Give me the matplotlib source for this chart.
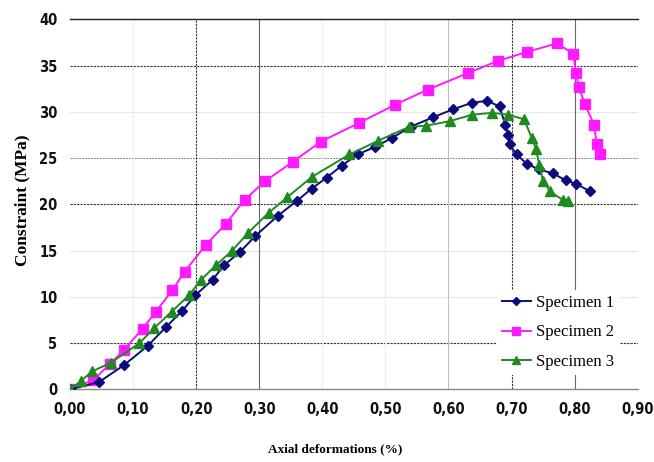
import matplotlib
matplotlib.use("Agg")
import matplotlib.pyplot as plt
from matplotlib import font_manager

# specimen curves (axial deformation %, constraint MPa)
spec1_x = [0.0, 0.046, 0.085, 0.123, 0.153, 0.178, 0.199, 0.226, 0.244, 0.270, 0.294,
           0.330, 0.360, 0.383, 0.407, 0.431, 0.456, 0.483, 0.511, 0.540, 0.575, 0.608,
           0.638, 0.661, 0.681, 0.690, 0.695, 0.697, 0.708, 0.724, 0.743, 0.766, 0.786,
           0.803, 0.825]
spec1_y = [0.0, 0.8, 2.6, 4.7, 6.8, 8.5, 10.2, 11.85, 13.4, 14.9, 16.6,
           18.8, 20.4, 21.7, 22.9, 24.2, 25.4, 26.2, 27.2, 28.4, 29.4, 30.3,
           31.0, 31.2, 30.6, 28.6, 27.5, 26.5, 25.4, 24.4, 23.8, 23.35, 22.6,
           22.2, 21.4]

spec2_x = [0.0, 0.036, 0.063, 0.085, 0.115, 0.136, 0.162, 0.182, 0.215, 0.247, 0.277,
           0.309, 0.353, 0.398, 0.458, 0.516, 0.567, 0.631, 0.678, 0.725, 0.772, 0.798,
           0.802, 0.807, 0.816, 0.831, 0.835, 0.841]
spec2_y = [0.0, 1.0, 2.7, 4.25, 6.55, 8.4, 10.7, 12.75, 15.6, 17.9, 20.5,
           22.5, 24.6, 26.8, 28.8, 30.8, 32.4, 34.2, 35.5, 36.5, 37.4, 36.3,
           34.2, 32.65, 30.9, 28.6, 26.55, 25.4]

spec3_x = [0.0, 0.018, 0.035, 0.065, 0.110, 0.133, 0.161, 0.189, 0.207, 0.231, 0.257,
           0.282, 0.315, 0.344, 0.384, 0.443, 0.489, 0.538, 0.564, 0.602, 0.638, 0.669,
           0.695, 0.720, 0.732, 0.739, 0.744, 0.750, 0.761, 0.781, 0.790]
spec3_y = [0.0, 0.95, 1.95, 2.9, 5.0, 6.6, 8.4, 10.2, 11.8, 13.4, 15.0,
           16.9, 19.1, 20.75, 23.0, 25.4, 26.9, 28.4, 28.5, 29.0, 29.7, 29.9,
           29.7, 29.2, 27.2, 26.0, 24.25, 22.55, 21.4, 20.5, 20.4]

labels = ["Specimen 1", "Specimen 2", "Specimen 3"]
x_ticks = [0.0, 0.1, 0.2, 0.3, 0.4, 0.5, 0.6, 0.7, 0.8, 0.9]
y_ticks = [0, 5, 10, 15, 20, 25, 30, 35, 40]

# the original uses a narrow bold sans for the ticks; take a condensed face if there is one
fonts = font_manager.fontManager.ttflist
if any(f.name == "Liberation Sans Narrow" for f in fonts):
    tick_kw = dict(fontfamily="Liberation Sans Narrow", fontsize=11.5)
elif any(f.name == "DejaVu Sans" and f.stretch == "condensed" for f in fonts):
    tick_kw = dict(fontfamily="DejaVu Sans", fontstretch="condensed", fontsize=10.5)
else:
    tick_kw = dict(fontfamily="Liberation Sans", fontsize=10)
serif = "Liberation Serif"

fig = plt.figure(figsize=(6.54, 4.62), dpi=100)
ax = fig.add_axes([0.107, 0.157, 0.868, 0.801])

# grid: mix of dark dashed and faint lines like the scanned original
for y in y_ticks[1:-1]:
    if y in (5, 20, 35):
        ax.axhline(y, color="#333333", lw=0.8, ls=(0, (2, 1)), zorder=0)
    elif y == 25:
        ax.axhline(y, color="#888888", lw=0.7, ls=(0, (2, 1)), zorder=0)
    else:
        ax.axhline(y, color="#e6e6e6", lw=0.8, zorder=0)
for x in x_ticks[1:-1]:
    if x in (0.2, 0.7):
        ax.axvline(x, color="#333333", lw=0.8, ls=(0, (2, 1)), zorder=0)
    elif x in (0.3, 0.8):
        ax.axvline(x, color="#666666", lw=0.8, zorder=0)
    elif x == 0.6:
        ax.axvline(x, color="#bbbbbb", lw=0.7, zorder=0)
    else:
        ax.axvline(x, color="#eeeeee", lw=0.8, zorder=0)

ax.plot(spec1_x, spec1_y, color="#0b0b7d", lw=1.4, marker="D", ms=5.5, label=labels[0], zorder=3)
ax.plot(spec2_x, spec2_y, color="#ff1aff", lw=1.4, marker="s", ms=7, label=labels[1], zorder=2)
ax.plot(spec3_x, spec3_y, color="#1f8a1f", lw=1.4, marker="^", ms=6.5, label=labels[2], zorder=4)

ax.set_xlim(0, 0.9)
ax.set_ylim(0, 40)
ax.set_xticks(x_ticks)
ax.set_xticklabels([f"{v:.2f}".replace(".", ",") for v in x_ticks])
ax.set_yticks(y_ticks)
ax.set_yticklabels([str(v) for v in y_ticks])
ax.tick_params(length=0, pad=9)
for lab in ax.get_xticklabels() + ax.get_yticklabels():
    lab.set(fontweight="bold", color="#111111", **tick_kw)

for s in ("left", "right"):
    ax.spines[s].set_visible(False)
ax.spines["top"].set_color("#222222")
ax.spines["top"].set_linewidth(1.0)
ax.spines["bottom"].set_color("#888888")
ax.spines["bottom"].set_linewidth(1.0)
ax.patch.set_alpha(0)

fig.text(0.512, 0.028, "Axial deformations (%)", ha="center", va="center",
         fontfamily=serif, fontweight="bold", fontsize=9.5)
fig.text(0.034, 0.567, "Constraint (MPa)", ha="center", va="center", rotation=90,
         fontfamily=serif, fontweight="bold", fontsize=12.5)

leg = ax.legend(loc="center left", bbox_to_anchor=(0.738, 0.154), frameon=True,
                prop={"family": serif, "size": 12}, handlelength=1.7,
                handletextpad=0.35, labelspacing=0.8, borderpad=0.3,
                fancybox=False, markerscale=0.8)
leg.get_frame().set_facecolor("white")
leg.get_frame().set_edgecolor("none")
leg.get_frame().set_alpha(1)

fig.savefig("out.png", dpi=100, facecolor="white")
